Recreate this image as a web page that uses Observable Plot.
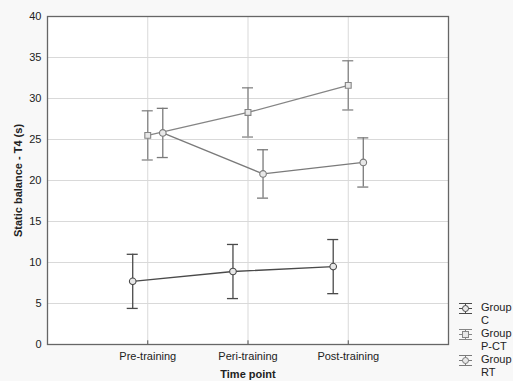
<!DOCTYPE html>
<html><head><meta charset="utf-8">
<script src="https://cdn.jsdelivr.net/npm/d3@7"></script>
<script src="https://cdn.jsdelivr.net/npm/@observablehq/plot@0.6"></script>
<style>
html,body{margin:0;padding:0;background:#f8f8f8;}
#wrap{position:relative;width:513px;height:381px;font-family:"Liberation Sans",Arial,sans-serif;}
#legend{position:absolute;left:458px;top:301px;font-size:11px;color:#222;line-height:13px;}
.item{display:flex;align-items:flex-start;}
.item svg{margin-top:1px;margin-right:8px;}
</style></head>
<body><div id="wrap"><div id="chart"></div><div id="legend"></div></div>
<script>
const timepoints = ["Pre-training", "Peri-training", "Post-training"];
const groups = ["Group C", "Group P-CT", "Group RT"];
const meanC   = [7.7, 8.9, 9.5];
const errC    = [3.3, 3.3, 3.3];
const meanPCT = [25.5, 28.3, 31.6];
const errPCT  = [3.0, 3.0, 3.0];
const meanRT  = [25.8, 20.8, 22.2];
const errRT   = [3.0, 2.95, 3.0];
const yTicks = [0, 5, 10, 15, 20, 25, 30, 35, 40];

const series = [
  {g: groups[0], mean: meanC, err: errC, color: "#4a4a4a", symbol: "circle", dodge: -0.15},
  {g: groups[1], mean: meanPCT, err: errPCT, color: "#858585", symbol: "square", dodge: 0},
  {g: groups[2], mean: meanRT, err: errRT, color: "#7a7a7a", symbol: "circle", dodge: 0.15}
];
const rows = series.flatMap(s => s.mean.map((m, i) => ({
  group: s.g, x: i + 1 + s.dodge, mean: m, lo: m - s.err[i], hi: m + s.err[i],
  color: s.color, symbol: s.symbol
})));
const cap = 0.055;

const chart = Plot.plot({
  width: 513, height: 381,
  marginLeft: 47, marginRight: 65, marginTop: 16, marginBottom: 37,
  style: {background: "transparent", fontFamily: "Liberation Sans, Arial, sans-serif", fontSize: "11px", color: "#222"},
  x: {domain: [0, 4], ticks: [1, 2, 3], tickFormat: d => timepoints[d - 1], tickSize: 0, tickPadding: 8,
      label: "Time point", labelArrow: "none", labelAnchor: "center", labelOffset: 33},
  y: {domain: [0, 40], ticks: yTicks, tickSize: 0, tickPadding: 6,
      label: "Static balance - T4 (s)", labelArrow: "none", labelAnchor: "center", labelOffset: 33},
  marks: [
    Plot.frame({fill: "white"}),
    Plot.gridY(yTicks, {stroke: "#d9d9d9", strokeOpacity: 1}),
    Plot.gridX([1, 2, 3], {stroke: "#d9d9d9", strokeOpacity: 1}),
    Plot.ruleX([1, 2, 3], {x: d => d, y1: 0, y2: 0.45, stroke: "#555"}),
    Plot.frame({stroke: "#666", strokeWidth: 1.3}),
    Plot.line(rows, {x: "x", y: "mean", z: "group", stroke: "color", strokeWidth: 1.3}),
    Plot.ruleX(rows, {x: "x", y1: "lo", y2: "hi", stroke: "color", strokeWidth: 1.3}),
    Plot.ruleY(rows, {y: "hi", x1: d => d.x - cap, x2: d => d.x + cap, stroke: "color", strokeWidth: 1.3}),
    Plot.ruleY(rows, {y: "lo", x1: d => d.x - cap, x2: d => d.x + cap, stroke: "color", strokeWidth: 1.3}),
    Plot.dot(rows, {x: "x", y: "mean", symbol: "symbol", r: 3.3, stroke: "color", fill: "#e8e8e8", strokeWidth: 1.1})
  ]
});
chart.querySelectorAll('[aria-label="x-axis label"] text, [aria-label="y-axis label"] text').forEach(t => t.setAttribute("font-weight", "bold"));
document.getElementById("chart").appendChild(chart);

const leg = document.getElementById("legend");
series.forEach(s => {
  const [w, n] = s.g.split(" ");
  const marker = s.symbol === "square"
    ? `<rect x="4.5" y="3.5" width="6" height="6" fill="#e8e8e8" stroke="${s.color}"/>`
    : `<circle cx="7.5" cy="6.5" r="3" fill="#e8e8e8" stroke="${s.color}"/>`;
  leg.insertAdjacentHTML("beforeend",
    `<div class="item"><svg width="15" height="13">
      <line x1="1" x2="14" y1="1.5" y2="1.5" stroke="${s.color}"/>
      <line x1="1" x2="14" y1="11.5" y2="11.5" stroke="${s.color}"/>
      <line x1="1" x2="14" y1="6.5" y2="6.5" stroke="${s.color}"/>
      <line x1="7.5" x2="7.5" y1="1.5" y2="11.5" stroke="${s.color}"/>
      ${marker}</svg><div>${w}<br>${n}</div></div>`);
});
</script></body></html>
